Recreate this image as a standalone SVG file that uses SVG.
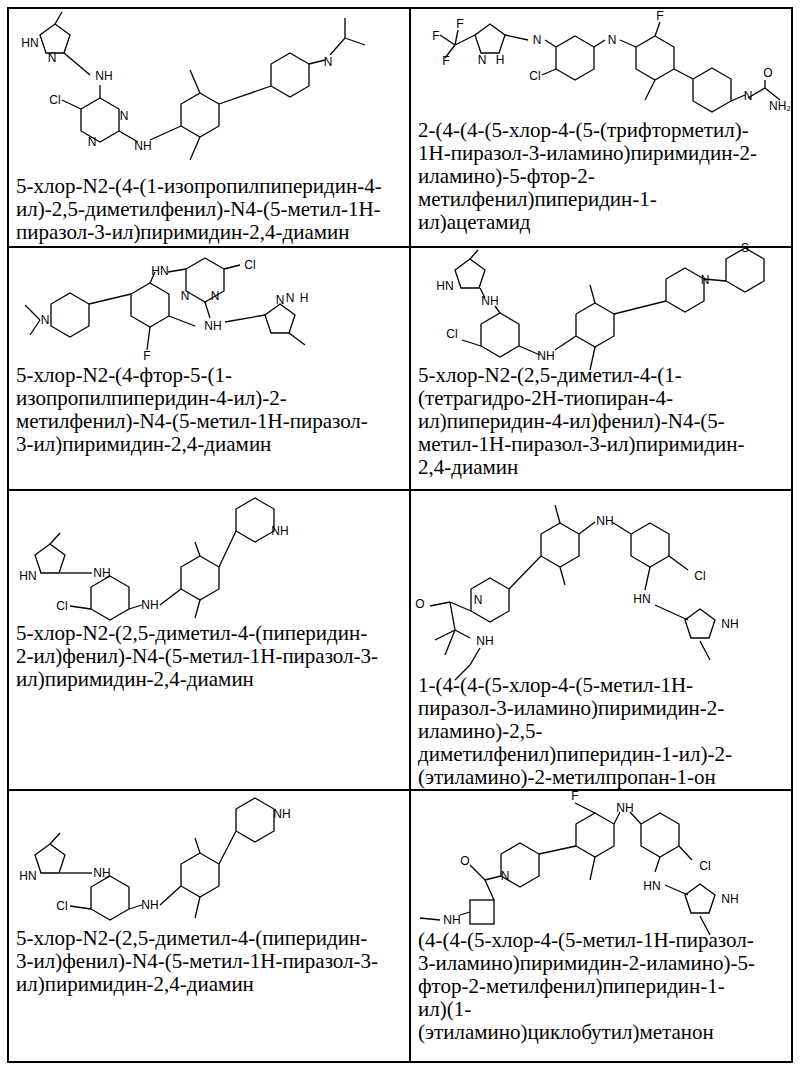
<svg xmlns="http://www.w3.org/2000/svg" width="800" height="1070" viewBox="0 0 800 1070">
<style>
.g{fill:none;stroke:#000;stroke-width:1.3}
.t{font-family:"Liberation Serif","Times New Roman","DejaVu Serif",serif;font-size:21px}
.a{font-family:"Liberation Sans",Arial,sans-serif;font-size:12px;text-anchor:middle}
.b{fill:none;stroke:#000;stroke-width:2}
</style>
<defs>
<path id="hx" d="M0,-22 L19,-11 L19,11 L0,22 L-19,11 L-19,-11Z"/>
<path id="pt" d="M0,-16 L15,-5 L9,13 L-9,13 L-15,-5Z"/>
</defs>
<rect width="800" height="1070" fill="#fff"/>
<g id="table" class="b">
<rect x="8" y="8" width="784" height="1054"/>
<line x1="410" y1="8" x2="410" y2="1062"/>
<line x1="8" y1="247" x2="792" y2="247"/>
<line x1="8" y1="490" x2="792" y2="490"/>
<line x1="8" y1="790" x2="792" y2="790"/>
</g>
<g id="connectors"></g>

<g id="cell1" class="g">
<use href="#pt" x="55" y="40"/><line x1="55" y1="24" x2="62" y2="12"/>
<use href="#hx" x="100" y="120"/><use href="#hx" x="200" y="115"/><use href="#hx" x="290" y="75"/>
<line x1="64" y1="53" x2="90" y2="75"/><line x1="100" y1="85" x2="100" y2="98"/>
<line x1="119" y1="131" x2="138" y2="142"/><line x1="150" y1="140" x2="181" y2="126"/>
<line x1="200" y1="93" x2="190" y2="70"/><line x1="200" y1="137" x2="190" y2="160"/>
<line x1="219" y1="104" x2="271" y2="86"/><line x1="309" y1="64" x2="325" y2="60"/>
<line x1="330" y1="55" x2="345" y2="38"/><line x1="345" y1="38" x2="365" y2="45"/><line x1="345" y1="38" x2="345" y2="18"/>
<line x1="81" y1="109" x2="62" y2="100"/>
</g>
<g id="cell1t">
<text class="a" x="30" y="47">HN</text><text class="a" x="52" y="62">N</text>
<text class="a" x="104" y="80">NH</text><text class="a" x="55" y="104">Cl</text>
<text class="a" x="92" y="146">N</text><text class="a" x="124" y="120">N</text>
<text class="a" x="143" y="150">NH</text><text class="a" x="328" y="66">N</text>
<text class="t" x="16" y="193">5-хлор-N2-(4-(1-изопропилпиперидин-4-</text>
<text class="t" x="16" y="216">ил)-2,5-диметилфенил)-N4-(5-метил-1H-</text>
<text class="t" x="16" y="239">пиразол-3-ил)пиримидин-2,4-диамин</text>
</g>

<g id="cell2" class="g">
<use href="#pt" x="490" y="40"/><use href="#hx" x="575" y="58"/><use href="#hx" x="655" y="58"/><use href="#hx" x="712" y="90"/>
<line x1="475" y1="35" x2="455" y2="45"/><line x1="455" y1="45" x2="440" y2="35"/><line x1="455" y1="45" x2="445" y2="58"/><line x1="455" y1="45" x2="458" y2="30"/>
<line x1="505" y1="35" x2="528" y2="40"/><line x1="545" y1="40" x2="556" y2="47"/>
<line x1="594" y1="47" x2="605" y2="40"/><line x1="620" y1="40" x2="636" y2="47"/>
<line x1="655" y1="36" x2="660" y2="22"/><line x1="655" y1="80" x2="645" y2="100"/>
<line x1="674" y1="69" x2="693" y2="79"/><line x1="731" y1="101" x2="745" y2="95"/>
<line x1="748" y1="98" x2="765" y2="88"/><line x1="765" y1="88" x2="765" y2="80"/><line x1="765" y1="88" x2="780" y2="100"/>
<line x1="556" y1="69" x2="542" y2="75"/>
</g>
<g id="cell2t">
<text class="a" x="436" y="40">F</text><text class="a" x="446" y="65">F</text><text class="a" x="460" y="28">F</text>
<text class="a" x="482" y="64">N</text><text class="a" x="500" y="64">H</text><text class="a" x="537" y="44">N</text>
<text class="a" x="535" y="80">Cl</text><text class="a" x="612" y="44">N</text><text class="a" x="660" y="20">F</text>
<text class="a" x="748" y="100">N</text><text class="a" x="768" y="77">O</text><text class="a" x="780" y="110">NH₂</text>
<text class="t" x="418" y="137">2-(4-(4-(5-хлор-4-(5-(трифторметил)-</text>
<text class="t" x="418" y="160">1H-пиразол-3-иламино)пиримидин-2-</text>
<text class="t" x="418" y="183">иламино)-5-фтор-2-</text>
<text class="t" x="418" y="206">метилфенил)пиперидин-1-</text>
<text class="t" x="418" y="229">ил)ацетамид</text>
</g>

<g id="cell3" class="g">
<use href="#hx" x="70" y="315"/><use href="#hx" x="150" y="305"/><use href="#hx" x="205" y="280"/><use href="#pt" x="280" y="320"/>
<line x1="40" y1="320" x2="25" y2="305"/><line x1="40" y1="320" x2="30" y2="335"/>
<line x1="89" y1="304" x2="131" y2="294"/><line x1="150" y1="327" x2="147" y2="350"/>
<line x1="169" y1="316" x2="195" y2="326"/><line x1="150" y1="283" x2="155" y2="272"/><line x1="168" y1="272" x2="186" y2="269"/>
<line x1="224" y1="269" x2="240" y2="265"/><line x1="205" y1="302" x2="210" y2="318"/><line x1="225" y1="322" x2="265" y2="315"/>
<line x1="289" y1="333" x2="305" y2="345"/>
</g>
<g id="cell3t">
<text class="a" x="45" y="324">N</text><text class="a" x="160" y="275">HN</text><text class="a" x="250" y="269">Cl</text>
<text class="a" x="185" y="300">N</text><text class="a" x="215" y="300">N</text>
<text class="a" x="213" y="330">NH</text><text class="a" x="147" y="360">F</text>
<text class="a" x="290" y="302">N</text><text class="a" x="304" y="302">H</text><text class="a" x="280" y="304">N</text>
<text class="t" x="16" y="382">5-хлор-N2-(4-фтор-5-(1-</text>
<text class="t" x="16" y="405">изопропилпиперидин-4-ил)-2-</text>
<text class="t" x="16" y="428">метилфенил)-N4-(5-метил-1H-пиразол-</text>
<text class="t" x="16" y="451">3-ил)пиримидин-2,4-диамин</text>
</g>

<g id="cell4" class="g">
<use href="#pt" x="470" y="275"/><use href="#hx" x="500" y="335"/><use href="#hx" x="595" y="325"/><use href="#hx" x="685" y="290"/><use href="#hx" x="745" y="270"/>
<line x1="470" y1="259" x2="478" y2="250"/><line x1="480" y1="288" x2="485" y2="298"/><line x1="495" y1="306" x2="500" y2="313"/>
<line x1="481" y1="346" x2="462" y2="340"/><line x1="519" y1="346" x2="540" y2="355"/><line x1="555" y1="350" x2="576" y2="336"/>
<line x1="595" y1="303" x2="590" y2="285"/><line x1="595" y1="347" x2="590" y2="370"/>
<line x1="614" y1="314" x2="666" y2="301"/><line x1="704" y1="279" x2="726" y2="281"/>
</g>
<g id="cell4t">
<text class="a" x="445" y="290">HN</text><text class="a" x="490" y="305">NH</text><text class="a" x="452" y="338">Cl</text>
<text class="a" x="546" y="360">NH</text><text class="a" x="705" y="284">N</text><text class="a" x="745" y="252">S</text>
<text class="t" x="418" y="382">5-хлор-N2-(2,5-диметил-4-(1-</text>
<text class="t" x="418" y="405">(тетрагидро-2H-тиопиран-4-</text>
<text class="t" x="418" y="428">ил)пиперидин-4-ил)фенил)-N4-(5-</text>
<text class="t" x="418" y="451">метил-1H-пиразол-3-ил)пиримидин-</text>
<text class="t" x="418" y="474">2,4-диамин</text>
</g>

<g id="cell5" class="g">
<use href="#pt" x="50" y="560"/><use href="#hx" x="110" y="598"/><use href="#hx" x="200" y="578"/><use href="#hx" x="255" y="520"/>
<line x1="50" y1="544" x2="60" y2="533"/><line x1="60" y1="573" x2="92" y2="573"/><line x1="105" y1="578" x2="110" y2="576"/>
<line x1="91" y1="609" x2="70" y2="606"/><line x1="129" y1="609" x2="142" y2="605"/><line x1="160" y1="605" x2="181" y2="589"/>
<line x1="200" y1="556" x2="195" y2="542"/><line x1="200" y1="600" x2="195" y2="618"/><line x1="219" y1="567" x2="236" y2="531"/>
</g>
<g id="cell5t">
<text class="a" x="28" y="580">HN</text><text class="a" x="102" y="577">NH</text><text class="a" x="62" y="610">Cl</text>
<text class="a" x="150" y="609">NH</text><text class="a" x="280" y="535">NH</text>
<text class="t" x="16" y="640">5-хлор-N2-(2,5-диметил-4-(пиперидин-</text>
<text class="t" x="16" y="663">2-ил)фенил)-N4-(5-метил-1H-пиразол-3-</text>
<text class="t" x="16" y="686">ил)пиримидин-2,4-диамин</text>
</g>

<g id="cell6" class="g">
<use href="#hx" x="560" y="545"/><use href="#hx" x="650" y="545"/><use href="#hx" x="490" y="600"/><use href="#pt" x="700" y="625"/>
<line x1="560" y1="523" x2="555" y2="505"/><line x1="560" y1="567" x2="565" y2="585"/>
<line x1="579" y1="534" x2="595" y2="522"/><line x1="612" y1="522" x2="631" y2="534"/>
<line x1="669" y1="556" x2="688" y2="570"/><line x1="650" y1="567" x2="645" y2="590"/><line x1="655" y1="605" x2="688" y2="620"/>
<line x1="541" y1="556" x2="509" y2="589"/><line x1="471" y1="611" x2="450" y2="602"/><line x1="450" y1="602" x2="430" y2="606"/>
<line x1="450" y1="602" x2="455" y2="630"/><line x1="455" y1="630" x2="435" y2="640"/><line x1="455" y1="630" x2="445" y2="655"/>
<line x1="455" y1="630" x2="470" y2="638"/><line x1="480" y1="648" x2="470" y2="665"/><line x1="470" y1="665" x2="455" y2="680"/>
<line x1="700" y1="641" x2="710" y2="660"/>
</g>
<g id="cell6t">
<text class="a" x="605" y="525">NH</text><text class="a" x="700" y="580">Cl</text><text class="a" x="642" y="603">HN</text>
<text class="a" x="730" y="628">NH</text><text class="a" x="420" y="608">O</text><text class="a" x="478" y="604">N</text>
<text class="a" x="485" y="645">NH</text>
<text class="t" x="418" y="692">1-(4-(4-(5-хлор-4-(5-метил-1H-</text>
<text class="t" x="418" y="715">пиразол-3-иламино)пиримидин-2-</text>
<text class="t" x="418" y="738">иламино)-2,5-</text>
<text class="t" x="418" y="761">диметилфенил)пиперидин-1-ил)-2-</text>
<text class="t" x="418" y="784">(этиламино)-2-метилпропан-1-он</text>
</g>

<g id="cell7" class="g">
<use href="#pt" x="50" y="860"/><use href="#hx" x="110" y="898"/><use href="#hx" x="200" y="875"/><use href="#hx" x="255" y="820"/>
<line x1="50" y1="844" x2="60" y2="833"/><line x1="60" y1="873" x2="92" y2="873"/><line x1="105" y1="878" x2="110" y2="876"/>
<line x1="91" y1="909" x2="70" y2="906"/><line x1="129" y1="909" x2="142" y2="905"/><line x1="160" y1="905" x2="181" y2="886"/>
<line x1="200" y1="853" x2="195" y2="838"/><line x1="200" y1="897" x2="195" y2="918"/><line x1="219" y1="864" x2="236" y2="831"/>
</g>
<g id="cell7t">
<text class="a" x="28" y="880">HN</text><text class="a" x="102" y="877">NH</text><text class="a" x="62" y="910">Cl</text>
<text class="a" x="150" y="909">NH</text><text class="a" x="282" y="818">NH</text>
<text class="t" x="16" y="945">5-хлор-N2-(2,5-диметил-4-(пиперидин-</text>
<text class="t" x="16" y="968">3-ил)фенил)-N4-(5-метил-1H-пиразол-3-</text>
<text class="t" x="16" y="991">ил)пиримидин-2,4-диамин</text>
</g>

<g id="cell8" class="g">
<use href="#hx" x="595" y="835"/><use href="#hx" x="660" y="835"/><use href="#hx" x="520" y="865"/><use href="#pt" x="700" y="900"/>
<rect x="470" y="900" width="24" height="24"/>
<line x1="595" y1="813" x2="575" y2="803"/><line x1="595" y1="857" x2="590" y2="880"/>
<line x1="614" y1="824" x2="620" y2="812"/><line x1="630" y1="812" x2="641" y2="824"/>
<line x1="679" y1="846" x2="692" y2="860"/><line x1="660" y1="857" x2="655" y2="872"/><line x1="665" y1="885" x2="688" y2="895"/>
<line x1="576" y1="846" x2="539" y2="854"/><line x1="501" y1="876" x2="485" y2="880"/><line x1="485" y1="880" x2="470" y2="865"/>
<line x1="485" y1="880" x2="494" y2="900"/><line x1="470" y1="912" x2="460" y2="915"/><line x1="440" y1="920" x2="420" y2="918"/>
<line x1="700" y1="916" x2="710" y2="935"/>
</g>
<g id="cell8t">
<text class="a" x="575" y="800">F</text><text class="a" x="625" y="812">NH</text><text class="a" x="705" y="870">Cl</text>
<text class="a" x="652" y="890">HN</text><text class="a" x="730" y="903">NH</text>
<text class="a" x="465" y="865">O</text><text class="a" x="505" y="880">N</text><text class="a" x="452" y="924">NH</text>
<text class="t" x="418" y="947">(4-(4-(5-хлор-4-(5-метил-1H-пиразол-</text>
<text class="t" x="418" y="970">3-иламино)пиримидин-2-иламино)-5-</text>
<text class="t" x="418" y="993">фтор-2-метилфенил)пиперидин-1-</text>
<text class="t" x="418" y="1016">ил)(1-</text>
<text class="t" x="418" y="1039">(этиламино)циклобутил)метанон</text>
</g>
</svg>
